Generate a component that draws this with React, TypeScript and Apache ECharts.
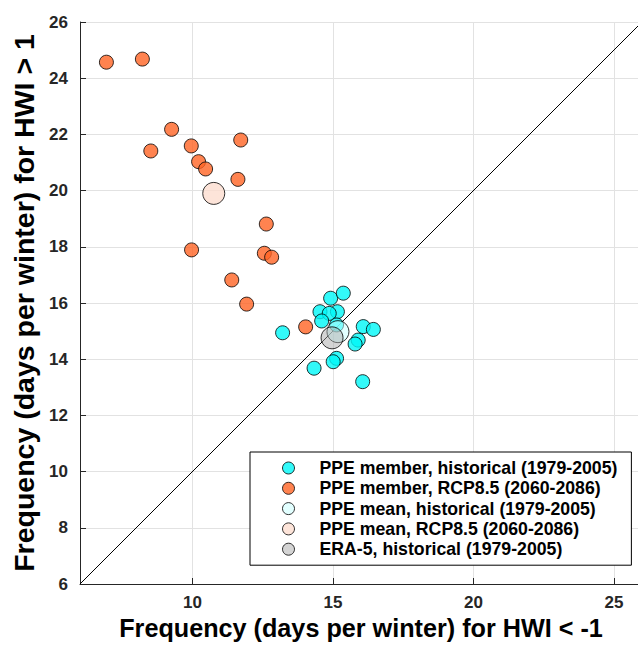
import { useEffect, useRef } from 'react';
import * as echarts from 'echarts';

// PPE members, historical (1979-2005)
const histX = [14.92, 15.37, 14.54, 15.16, 14.87, 14.6, 15.13, 16.08, 16.44, 15.9, 15.79, 15.13, 15.01, 14.33, 13.21, 16.06];
const histY = [16.17, 16.35, 15.69, 15.69, 15.63, 15.36, 15.22, 15.16, 15.06, 14.68, 14.54, 14.03, 13.91, 13.68, 14.94, 13.2];
// PPE members, RCP8.5 (2060-2086)
const rcpX = [6.94, 8.22, 9.26, 8.52, 9.96, 11.72, 10.22, 10.47, 11.62, 12.63, 9.97, 12.56, 12.82, 11.4, 11.93, 14.03];
const rcpY = [24.57, 24.68, 22.18, 21.41, 21.59, 21.8, 21.03, 20.77, 20.4, 18.81, 17.89, 17.77, 17.63, 16.82, 15.96, 15.15];
const meanHist = [15.18, 14.98];
const meanRcp = [10.76, 19.9];
const era5 = [14.97, 14.76];
const diagonal = [[6, 6], [26, 26]];
const xTicks = [10, 15, 20, 25];
const seriesNames = [
  'PPE member, historical (1979-2005)',
  'PPE member, RCP8.5 (2060-2086)',
  'PPE mean, historical (1979-2005)',
  'PPE mean, RCP8.5 (2060-2086)',
  'ERA-5, historical (1979-2005)',
];

const FONT = '"Liberation Sans", Arial, Helvetica, sans-serif';
const AX = '#262626';

export default function App() {
  const ref = useRef<HTMLDivElement>(null);
  useEffect(() => {
    const chart = echarts.init(ref.current!, null, { renderer: 'svg' });
    const border = { borderColor: '#000', borderWidth: 1 };
    chart.setOption({
      animation: false,
      backgroundColor: '#fff',
      grid: { left: 80, top: 22, width: 562, height: 562, outerBoundsMode: 'none' },
      legend: {
        data: seriesNames,
        orient: 'vertical',
        left: 250,
        top: 452,
        itemWidth: 52,
        itemHeight: 12,
        itemGap: 2.3,
        padding: [7, 14, 7, 32],
        borderColor: '#000',
        borderWidth: 1,
        backgroundColor: '#fff',
        icon: 'circle',
        itemStyle: { borderColor: '#000', borderWidth: 1 },
        textStyle: { fontSize: 17.7, fontWeight: 'bold', color: '#000', fontFamily: FONT },
      },
      xAxis: {
        type: 'value',
        min: 6,
        max: 26,
        name: 'Frequency (days per winter) for HWI < -1',
        nameLocation: 'middle',
        nameGap: 27,
        nameTextStyle: { fontSize: 25.2, fontWeight: 'bold', color: '#000', fontFamily: FONT },
        axisLine: { show: true, lineStyle: { color: AX, width: 1 } },
        axisTick: { show: true, inside: true, length: 6, customValues: xTicks, lineStyle: { color: AX } },
        axisLabel: { customValues: xTicks, fontSize: 17, fontWeight: 'bold', color: AX, margin: 10, fontFamily: FONT },
        splitLine: { show: true, lineStyle: { color: '#e2e2e2', width: 1 } },
      },
      yAxis: {
        type: 'value',
        min: 6,
        max: 26,
        interval: 2,
        name: 'Frequency (days per winter) for HWI > 1',
        nameLocation: 'middle',
        nameGap: 36,
        nameTextStyle: { fontSize: 28.5, fontWeight: 'bold', color: '#000', fontFamily: FONT },
        axisLine: { show: true, lineStyle: { color: AX, width: 1 } },
        axisTick: { show: true, inside: true, length: 6, lineStyle: { color: AX } },
        axisLabel: { fontSize: 17, fontWeight: 'bold', color: AX, margin: 12, fontFamily: FONT },
        splitLine: { show: true, lineStyle: { color: '#e2e2e2', width: 1 } },
      },
      series: [
        {
          type: 'line',
          data: diagonal,
          symbol: 'none',
          lineStyle: { color: '#000', width: 1 },
          z: 1,
          silent: true,
        },
        {
          name: seriesNames[0],
          type: 'scatter',
          data: histX.map((x, i) => [x, histY[i]]),
          symbolSize: 14,
          itemStyle: { color: '#00F8F8', ...border },
          z: 2,
        },
        {
          name: seriesNames[1],
          type: 'scatter',
          data: rcpX.map((x, i) => [x, rcpY[i]]),
          symbolSize: 14,
          itemStyle: { color: '#FF6424', ...border },
          z: 2,
        },
        {
          name: seriesNames[2],
          type: 'scatter',
          data: [meanHist],
          symbolSize: 22,
          itemStyle: { color: 'rgba(200,255,255,0.65)', ...border },
          z: 3,
        },
        {
          name: seriesNames[3],
          type: 'scatter',
          data: [meanRcp],
          symbolSize: 22,
          itemStyle: { color: '#FDDDD0', ...border },
          z: 3,
        },
        {
          name: seriesNames[4],
          type: 'scatter',
          data: [era5],
          symbolSize: 22,
          itemStyle: { color: 'rgba(165,165,165,0.6)', ...border },
          z: 4,
        },
      ],
    });
    return () => chart.dispose();
  }, []);
  return (
    <div
      ref={ref}
      style={{ position: 'fixed', left: 0, top: 0, width: 638, height: 646, background: '#fff' }}
    />
  );
}
